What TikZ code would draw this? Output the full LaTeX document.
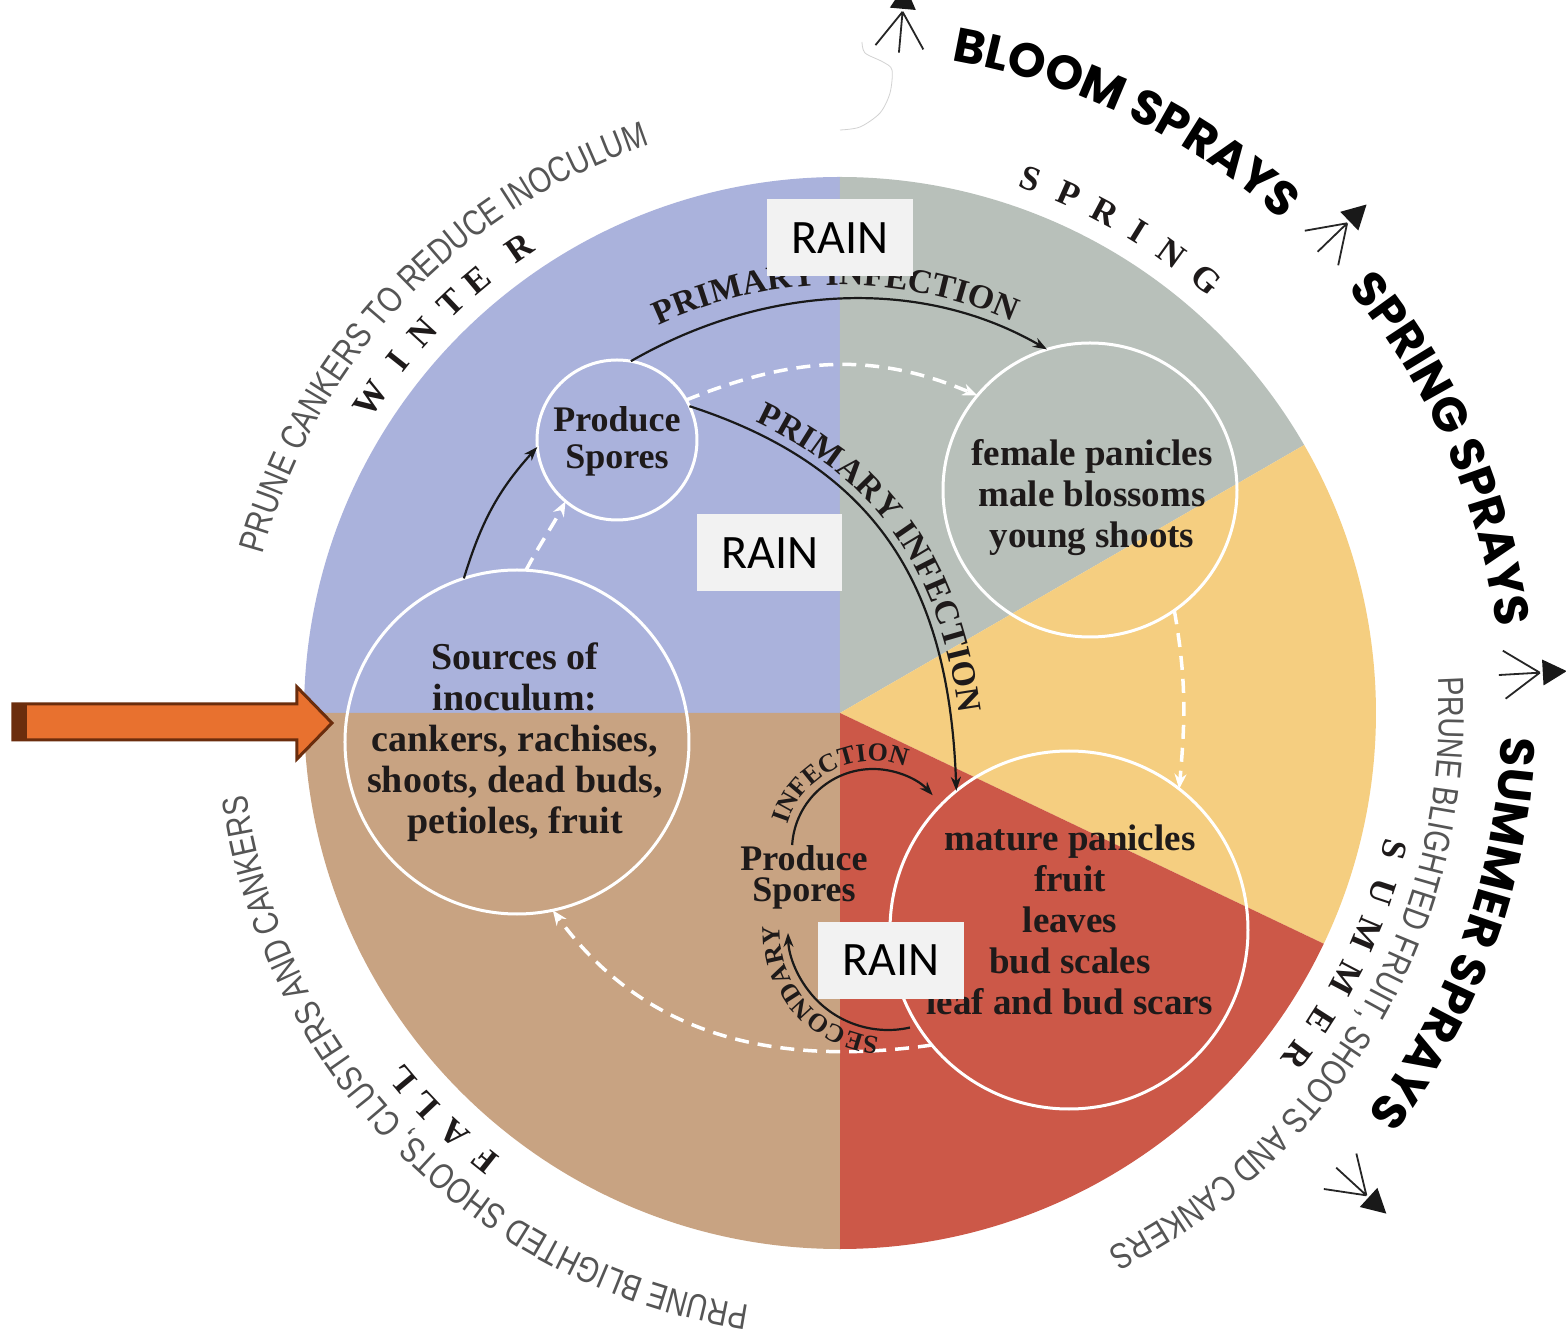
\documentclass[tikz,border=0pt]{standalone}
\usepackage{fontspec}
\setmainfont{Liberation Serif}
\newfontfamily\rainfont{Carlito}
\newfontfamily\sprayfont{Poppins}
\newfontfamily\thinfont[FakeStretch=0.8]{Liberation Sans}
\usetikzlibrary{arrows.meta,decorations.text,calc}
\definecolor{cBlue}{HTML}{AAB2DC}
\definecolor{cGray}{HTML}{B8C0BA}
\definecolor{cYellow}{HTML}{F5CE80}
\definecolor{cRed}{HTML}{CC5848}
\definecolor{cBrown}{HTML}{C8A382}
\definecolor{txt}{HTML}{1E1A1A}
\definecolor{rainfill}{HTML}{F2F2F2}
\definecolor{thingray}{HTML}{555555}
\definecolor{orangeA}{HTML}{E8712F}
\definecolor{brownA}{HTML}{6B2D0D}
\newcommand\myPI{\bfseries\fontsize{34}{34}\selectfont}
\newcommand\mySI{\bfseries\fontsize{26}{26}\selectfont}
\newcommand\mySPR{\sprayfont\bfseries\fontsize{48}{48}\selectfont}
\newcommand\myTHIN{\thinfont\fontsize{36}{36}\selectfont}
\begin{document}
\begin{tikzpicture}[x=1pt,y=1pt,
  ring/.style={circle, draw=white, line width=3pt, inner sep=0pt, outer sep=0pt},
  intext/.style={align=center, text=txt, inner sep=0pt, font=\bfseries\fontsize{37}{41}\selectfont},
  rainbox/.style={fill=rainfill, minimum width=145pt, minimum height=77pt, inner sep=0pt, text=black, font=\rainfont\fontsize{48}{48}\selectfont},
  blk/.style={draw=black!90, line width=2.2pt, -{Stealth[length=14pt,width=10pt]}},
  wdash/.style={draw=white, line width=3.5pt, dash pattern=on 14pt off 9pt, -{Stealth[length=15pt,width=12pt]}},
  season/.style={text=txt, inner sep=0pt, font=\bfseries\fontsize{35}{35}\selectfont},
  mk/.style={draw=black!85, line width=1.8pt}
]
\useasboundingbox (-840,-622) rectangle (726,713);
\fill[white] (-840,-622) rectangle (726,713);

% main disc sectors
\fill[cBlue] (0,0) -- (90:536) arc[start angle=90,end angle=180,radius=536] -- cycle;
\fill[cGray] (0,0) -- (30:536) arc[start angle=30,end angle=90,radius=536] -- cycle;
\fill[cYellow] (0,0) -- (-25.5:536) arc[start angle=-25.5,end angle=30,radius=536] -- cycle;
\fill[cRed] (0,0) -- (-90:536) arc[start angle=-90,end angle=-25.5,radius=536] -- cycle;
\fill[cBrown] (0,0) -- (180:536) arc[start angle=180,end angle=270,radius=536] -- cycle;

% white rings
\node[ring, minimum size=160pt] (prod) at (-223,273) {};
\node[ring, minimum size=344pt] (src) at (-323,-29) {};
\node[ring, minimum size=294pt] (fem) at (250,223) {};
\node[ring, minimum size=358pt] (mat) at (229,-217) {};

% inner texts
\node[intext, font=\bfseries\fontsize{36}{37}\selectfont] (prodtxt) at (-223,272) {Produce\\Spores};
\node[intext, font=\bfseries\fontsize{38}{41}\selectfont] (srctxt) at (-325,-29) {Sources of\\inoculum:\\cankers, rachises,\\shoots, dead buds,\\petioles, fruit};
\node[intext] (femtxt) at (252,215) {female panicles\\male blossoms\\young shoots};
\node[intext] (mattxt) at (230,-207) {mature panicles\\fruit\\leaves\\bud scales\\leaf and bud scars};
\node[intext, font=\bfseries\fontsize{36}{31}\selectfont] (prod2txt) at (-36,-164) {Produce\\Spores};

% black arrows
\draw[blk] (src.108) to[out=73,in=228] (prod.185);
\draw[blk] (prod.80) to[out=30,in=150,looseness=0.92] (fem.107);
\draw[blk] (prod.25) to[out=-18,in=92,looseness=1.1] (mat.129);
\coordinate (c1) at (33,-137);
\coordinate (c2) at (48,-217);
\draw[blk] ([shift={(176.5:81)}]c1) arc[start angle=176.5,end angle=42.5,radius=81];
\draw[blk] ([shift={(-77.3:100)}]c2) arc[start angle=-77.3,end angle=-178.3,radius=100];

% white dashed arrows
\draw[wdash] (src.87) to[out=62,in=242] (prod.230);
\draw[wdash] (prod.30) to[out=22,in=157] (fem.140);
\draw[wdash] (fem.305) to[out=-80,in=85] (mat.52);
\draw[wdash] (mat.220) to[out=188,in=-54] (src.282);

% curved labels of arrows
\path[decorate, decoration={text along path, text align=center, text color=txt,
  text={|\myPI|PRIMARY INFECTION}}] (130.6:428) arc[start angle=130.6,end angle=50.6,radius=428];
\path[decorate, decoration={text along path, raise=9pt, text align={left, left indent=66pt}, text color=txt,
  text={|\myPI|PRIMARY INFECTION}}] (prod.25) to[out=-18,in=92,looseness=1.1] (mat.129);
\path[decorate, decoration={text along path, text align=center, text color=txt,
  text={|\mySI|INFECTION}}] ([shift={(200:89)}]c1) arc[start angle=200,end angle=32,radius=89];
\path[decorate, decoration={text along path, text align=center, text color=txt,
  text={|\mySI|SECONDARY}}] ([shift={(281.5:108)}]c2) arc[start angle=281.5,end angle=161.5,radius=108];

% seasons (spaced letters)
\foreach \ch/\ang [count=\i] in {W/146.2,I/141.5,N/137.6,T/133.5,E/130.0,R/124.6}
  \node[season, rotate=\ang-90] (win\i) at (\ang:565) {\ch};
\foreach \ch/\ang [count=\i] in {S/70.4,P/66.2,R/62.1,I/58.2,N/54.2,G/49.8}
  \node[season, rotate=\ang-90] (spr\i) at (\ang:567) {\ch};
\foreach \ch/\ang [count=\i] in {S/-13.9,U/-18.3,M/-22.8,M/-27.7,E/-32.6,R/-36.8}
  \node[season, rotate=\ang-90] (sum\i) at (\ang:571) {\ch};
\foreach \ch/\ang [count=\i] in {F/231.5,A/227.5,L/223.4,L/219.9}
  \node[season, rotate=\ang-90] (fal\i) at (\ang:571) {\ch};

% thin grey pruning texts
\path[decorate, decoration={text along path, text align=center, text color=thingray,
  text={|\myTHIN|PRUNE CANKERS TO REDUCE INOCULUM}}] (186.6:599) arc[start angle=186.6,end angle=86.6,radius=599];
\path[decorate, decoration={text along path, text align=center, text color=thingray,
  text={|\myTHIN|PRUNE BLIGHTED FRUIT, SHOOTS AND CANKERS}}] (20:599) arc[start angle=20,end angle=-80,radius=599];
\path[decorate, decoration={text along path, text align=center, text color=thingray,
  text={|\myTHIN|PRUNE BLIGHTED SHOOTS, CLUSTERS AND CANKERS}}] (274.6:599) arc[start angle=274.6,end angle=174.6,radius=599];

% spray texts
\path[decorate, decoration={text along path, text align=center, text color=black,
  text={|\mySPR|BLOOM SPRAYS}}] (104.2:662) arc[start angle=104.2,end angle=24.2,radius=662];
\path[decorate, decoration={text along path, text align=center, text color=black,
  text={|\mySPR|SPRING SPRAYS}}] (63.65:662) arc[start angle=63.65,end angle=-16.35,radius=662];
\path[decorate, decoration={text along path, text align=center, text color=black,
  text={|\mySPR|SUMMER SPRAYS}}] (20.35:662) arc[start angle=20.35,end angle=-59.65,radius=662];

% spray period markers
\foreach \a/\rr in {84.9/704,44/705,3.3/701,-42.5/714}{
  \draw[mk] (\a:\rr) -- +({\a+214}:43) (\a:\rr) -- +({\a+180}:41) (\a:\rr) -- +({\a+146}:43);
  \fill[black!90] ($(\a:{\rr+3})+({\a+90}:13)$) -- ($(\a:{\rr+3})+({\a-90}:13)$) -- (\a:{\rr+27}) -- cycle;
}
% faint pencil mark
\draw[gray!35, line width=0.8pt] plot[smooth] coordinates {(22,671) (25,660) (43,651) (52,643) (50,620) (40,600) (20,586) (0,583)};

% RAIN boxes
\node[rainbox] (rain1) at (0,475) {RAIN};
\node[rainbox] (rain2) at (-70,160) {RAIN};
\node[rainbox] (rain3) at (51,-247) {RAIN};

% orange pointer arrow
\filldraw[fill=orangeA, draw=brownA, line width=3pt, line join=miter]
  (-827,9) -- (-543,9) -- (-543,26) -- (-508,-10) -- (-543,-46) -- (-543,-27) -- (-827,-27) -- cycle;
\fill[brownA] (-828,10) rectangle (-813,-28);
\end{tikzpicture}
\end{document}
